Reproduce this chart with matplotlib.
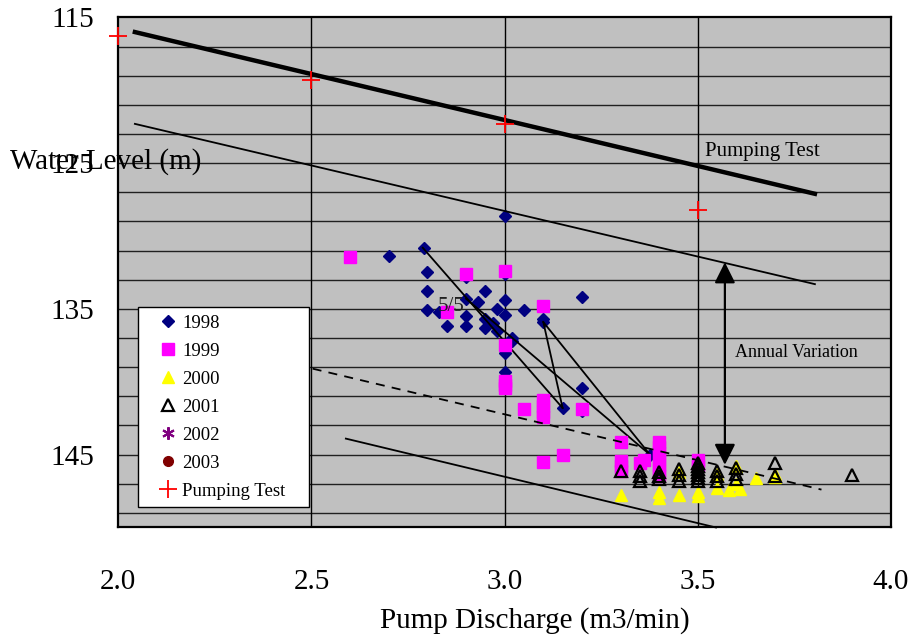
import numpy as np
import matplotlib
matplotlib.use("Agg")
from matplotlib import pyplot as plt
from matplotlib.patches import Rectangle

plt.rcParams['font.family'] = ['Liberation Serif', 'DejaVu Serif']

# water level (m, depth) vs pump discharge (m3/min)
x_1998 = [2.70, 2.79, 2.80, 2.80, 2.80, 2.83, 2.85, 2.90, 2.90, 2.93, 2.90, 2.90,
          2.95, 2.95, 2.95, 2.97, 2.98, 2.98, 3.00, 3.00, 3.00, 3.00, 3.00, 3.00,
          3.02, 3.02, 3.05, 3.10, 3.10, 3.20, 3.20, 3.15, 3.20, 3.375]
y_1998 = [131.4, 130.8, 132.5, 133.8, 135.1, 135.2, 136.2, 132.8, 134.3, 134.5, 135.5, 136.2,
          133.8, 135.7, 136.3, 136.0, 135.0, 136.5, 128.6, 132.6, 134.4, 135.4, 138.0, 139.3,
          137.0, 137.2, 135.1, 135.7, 135.9, 134.2, 140.4, 141.8, 142.0, 145.0]

x_1999 = [2.60, 2.90, 3.00, 2.85, 3.10, 3.00, 3.00, 3.00, 3.00, 3.05,
          3.10, 3.10, 3.10, 3.10, 3.20, 3.10, 3.15,
          3.30, 3.30, 3.30, 3.30, 3.35, 3.36,
          3.40, 3.40, 3.40, 3.40, 3.40, 3.40, 3.40, 3.50, 3.50]
y_1999 = [131.45, 132.6, 132.4, 135.2, 134.8, 137.5, 139.95, 140.2, 140.45, 141.9,
          141.25, 141.65, 142.05, 142.45, 141.9, 145.5, 145.05,
          144.1, 145.45, 145.8, 146.15, 145.55, 145.4,
          144.1, 144.5, 144.9, 145.3, 145.7, 146.1, 146.5, 145.4, 145.8]

x_2000 = [3.30, 3.40, 3.40, 3.45, 3.45, 3.50, 3.50, 3.55, 3.55, 3.58, 3.61, 3.60,
          3.60, 3.65, 3.70, 3.70]
y_2000 = [147.8, 147.55, 147.95, 147.8, 146.2, 147.55, 147.85, 147.3, 146.3, 147.4, 147.35, 147.0,
          145.8, 146.6, 146.3, 146.55]

x_2001 = [3.30, 3.35, 3.35, 3.35, 3.40, 3.40, 3.40, 3.45, 3.45, 3.45,
          3.50, 3.50, 3.50, 3.50, 3.50, 3.50, 3.50, 3.55, 3.55, 3.55,
          3.60, 3.60, 3.60, 3.70, 3.70, 3.90]
y_2001 = [146.15, 146.15, 146.5, 146.8, 146.2, 146.5, 146.7, 146.0, 146.4, 146.8,
          145.55, 145.8, 146.0, 146.2, 146.4, 146.6, 146.8, 146.15, 146.5, 146.8,
          145.9, 146.3, 146.7, 145.6, 146.5, 146.4]

x_2002 = []
y_2002 = []
x_2003 = []
y_2003 = []

x_pump = [2.0, 2.5, 3.0, 3.5]
y_pump = [116.3, 119.3, 122.3, 128.2]

# drawn lines
pump_fit_x, pump_fit_y = [2.043, 3.803], [116.0, 127.1]
upper_x, upper_y = [2.043, 3.803], [122.3, 133.3]
dashed_x, dashed_y = [2.503, 3.820], [139.1, 147.4]
lower_x, lower_y = [2.589, 3.547], [143.9, 150.0]
# 1998 track segments ((x0, y0), (x1, y1))
tracks = [((2.788, 130.8), (3.15, 141.8)),
          ((3.10, 135.9), (3.15, 141.8)),
          ((3.10, 135.9), (3.376, 145.0)),
          ((2.90, 134.3), (3.376, 145.0))]
annual_x, annual_top, annual_bottom = 3.57, 131.8, 145.7

fig = plt.figure(figsize=(9.12, 6.36), dpi=100)
ax = fig.add_axes([0.1297, 0.1706, 0.8473, 0.8019])
ax.set_facecolor('#c0c0c0')

ax.set_xlim(2.0, 4.0)
ax.set_ylim(150, 115)
ax.set_xticks([2.0, 2.5, 3.0, 3.5, 4.0])
ax.set_xticklabels(['2.0', '2.5', '3.0', '3.5', '4.0'])
ax.set_yticks([115, 125, 135, 145])
ax.set_yticks(np.arange(117, 150, 2), minor=True)
ax.tick_params(axis='x', length=0, pad=30, labelsize=21)
ax.tick_params(axis='y', length=0, pad=17, labelsize=21)
ax.tick_params(which='minor', length=0)

for yy in np.arange(117, 150, 2):
    ax.axhline(yy, color='#202020', lw=1.0, zorder=1)
for xx in [2.5, 3.0, 3.5]:
    ax.axvline(xx, color='black', lw=1.0, zorder=1)
for sp in ax.spines.values():
    sp.set_linewidth(1.6)

ax.plot(x_1998, y_1998, ls='none', marker='D', ms=6.5, color='#000080', label='1998', zorder=3)
ax.plot(x_1999, y_1999, ls='none', marker='s', ms=8, color='#ff00ff', label='1999', zorder=4)
ax.plot(x_2000, y_2000, ls='none', marker='^', ms=9, color='#ffff00', label='2000', zorder=5)
ax.plot(x_2001, y_2001, ls='none', marker='^', ms=9, mfc='none', mec='black', mew=1.6,
        label='2001', zorder=6)
ax.plot(x_2002, y_2002, ls='none', marker=(6, 2, 0), ms=9, mec='#800080', mew=1.5, label='2002')
ax.plot(x_2003, y_2003, ls='none', marker='o', ms=7, color='#800000', label='2003')
ax.plot(x_pump, y_pump, ls='none', marker='+', ms=13, mew=1.3, color='red', label='Pumping Test',
        zorder=7, clip_on=False)

ax.plot(pump_fit_x, pump_fit_y, color='black', lw=3.2, zorder=6)
ax.plot(upper_x, upper_y, color='black', lw=1.3, zorder=6)
ax.plot(dashed_x, dashed_y, color='black', lw=1.3, ls=(0, (5, 4)), zorder=6)
ax.plot(lower_x, lower_y, color='black', lw=1.3, zorder=6, clip_on=False)
for (xa, ya), (xb, yb) in tracks:
    ax.plot([xa, xb], [ya, yb], color='black', lw=1.3, zorder=3)

ax.annotate('', xy=(annual_x, annual_top), xytext=(annual_x, annual_bottom),
            arrowprops=dict(arrowstyle='<|-|>,head_length=0.9,head_width=0.45',
                            mutation_scale=14, color='black', lw=1.6,
                            shrinkA=0, shrinkB=0), zorder=7)

ax.text(3.518, 124.2, 'Pumping Test', fontsize=15, va='center', ha='left', zorder=8)
ax.text(3.596, 138.0, 'Annual Variation', fontsize=13, va='center', ha='left', zorder=8)
ax.text(2.827, 134.8, '5/5', fontsize=15, va='center', ha='left', color='#202020', zorder=8)

# legend box
ax.add_patch(Rectangle((0.0251, 0.0396), 0.2219, 0.3924, transform=ax.transAxes,
                       facecolor='white', edgecolor='black', lw=1.0, zorder=9))
leg = ax.legend(loc='upper left', bbox_to_anchor=(0.033, 0.447), frameon=False,
                fontsize=13.5, handlelength=1.0, handletextpad=0.25, labelspacing=0.58,
                borderpad=0.3, numpoints=1)
leg.set_zorder(10)

fig.text(10 / 912, 1 - 162 / 636, 'Water Level (m)', fontsize=21, ha='left', va='center')
fig.text(535 / 912, 1 - 621 / 636, 'Pump Discharge (m3/min)', fontsize=21, ha='center', va='center')

fig.savefig('out.png', dpi=100)
